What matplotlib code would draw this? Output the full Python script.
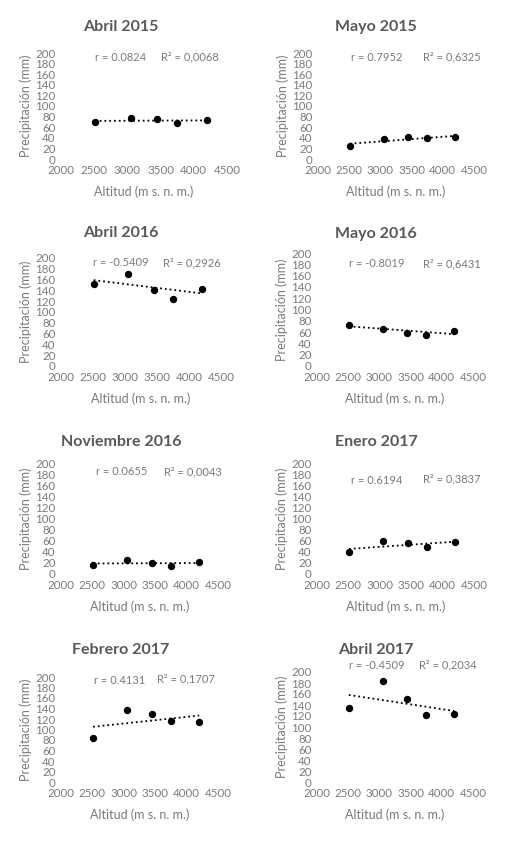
import numpy as np
import matplotlib
matplotlib.use("Agg")
import matplotlib.pyplot as plt

plt.rcParams['font.family'] = ['Lato', 'DejaVu Sans']

# altitude of the five stations (m s. n. m.)
altitud = [2510, 3050, 3450, 3750, 4200]

titulos = ["Abril 2015", "Mayo 2015", "Abril 2016", "Mayo 2016",
           "Noviembre 2016", "Enero 2017", "Febrero 2017", "Abril 2017"]

abril_2015 = [69, 77, 75, 67, 74]
mayo_2015 = [25, 37, 41, 39, 41]
abril_2016 = [152, 171, 141, 124, 143]
mayo_2016 = [73, 66, 59, 55, 62]
noviembre_2016 = [16, 26, 19, 14, 22]
enero_2017 = [39, 59, 55, 49, 58]
febrero_2017 = [84, 137, 129, 117, 115]
abril_2017 = [135, 183, 151, 122, 124]

series = [abril_2015, mayo_2015, abril_2016, mayo_2016,
          noviembre_2016, enero_2017, febrero_2017, abril_2017]

r_txt = ["r = 0.0824", "r = 0.7952", "r = -0.5409", "r = -0.8019",
         "r = 0.0655", "r = 0.6194", "r = 0.4131", "r = -0.4509"]
r2_txt = ["R² = 0,0068", "R² = 0,6325", "R² = 0,2926", "R² = 0,6431",
          "R² = 0,0043", "R² = 0,3837", "R² = 0,1707", "R² = 0,2034"]

# label positions (data coords) for r / R² text
r_pos = [(2890, 192), (2945, 192), (2940, 191), (2960, 181),
         (2970, 184), (2955, 169), (2940, 194), (2960, 211)]
r2_pos = [(3943, 192), (4150, 192), (4050, 191), (4160, 181),
          (4100, 184), (4150, 172), (3990, 196), (4100, 213)]

# panel boxes in pixels: x at 2000, x at 4500, y at 200, y at 0
boxes = [(61, 227, 53, 159), (318, 474, 53, 159),
         (61, 221, 258, 366), (317, 473, 253, 366),
         (61, 218, 463, 574), (317, 474, 463, 574),
         (61, 218, 677, 782), (317, 473, 672, 782)]
title_pos = [(121, 27), (376, 27), (121, 233), (376, 234),
             (121, 442), (376, 442), (121, 650), (376, 650)]
# only these two panels show the horizontal axis line
con_eje = [False, False, False, False, True, True, False, False]

W, H = 505, 847
gris = "#595959"
gris_claro = "#7a7a7a"
fig = plt.figure(figsize=(W / 100, H / 100), dpi=100)

for i in range(8):
    x0, x1, ytop, ybot = boxes[i]
    ax = fig.add_axes([x0 / W, 1 - ybot / H, (x1 - x0) / W, (ybot - ytop) / H])
    ax.set_xlim(2000, 4500)
    ax.set_ylim(0, 200)
    ax.set_xticks(range(2000, 4501, 500))
    ax.set_yticks(range(0, 201, 20))
    for s in ax.spines.values():
        s.set_visible(False)
    ax.tick_params(length=0, labelsize=8.3, labelcolor=gris_claro, pad=4)
    if con_eje[i]:
        ax.axhline(0, color="#d9d9d9", lw=0.8, zorder=0)

    y = series[i]
    ax.plot(altitud, y, "o", color="black", ms=4.3, zorder=3)
    m, b = np.polyfit(altitud, y, 1)
    xs = np.array([min(altitud), max(altitud)])
    ax.plot(xs, m * xs + b, ":", color="black", lw=1.3, zorder=2)

    ax.text(*r_pos[i], r_txt[i], ha="center", va="center", fontsize=8, color=gris_claro)
    ax.text(*r2_pos[i], r2_txt[i], ha="center", va="center", fontsize=8, color=gris_claro)

    ax.set_xlabel("Altitud (m s. n. m.)", fontsize=9, color=gris_claro, labelpad=7)
    ax.set_ylabel("Precipitación (mm)", fontsize=9, color=gris_claro, labelpad=2)

    tx, ty = title_pos[i]
    fig.text(tx / W, 1 - ty / H, titulos[i], ha="center", va="center",
             fontsize=11.5, fontweight="bold", color=gris)

fig.savefig("out.png", dpi=100, facecolor="white")
